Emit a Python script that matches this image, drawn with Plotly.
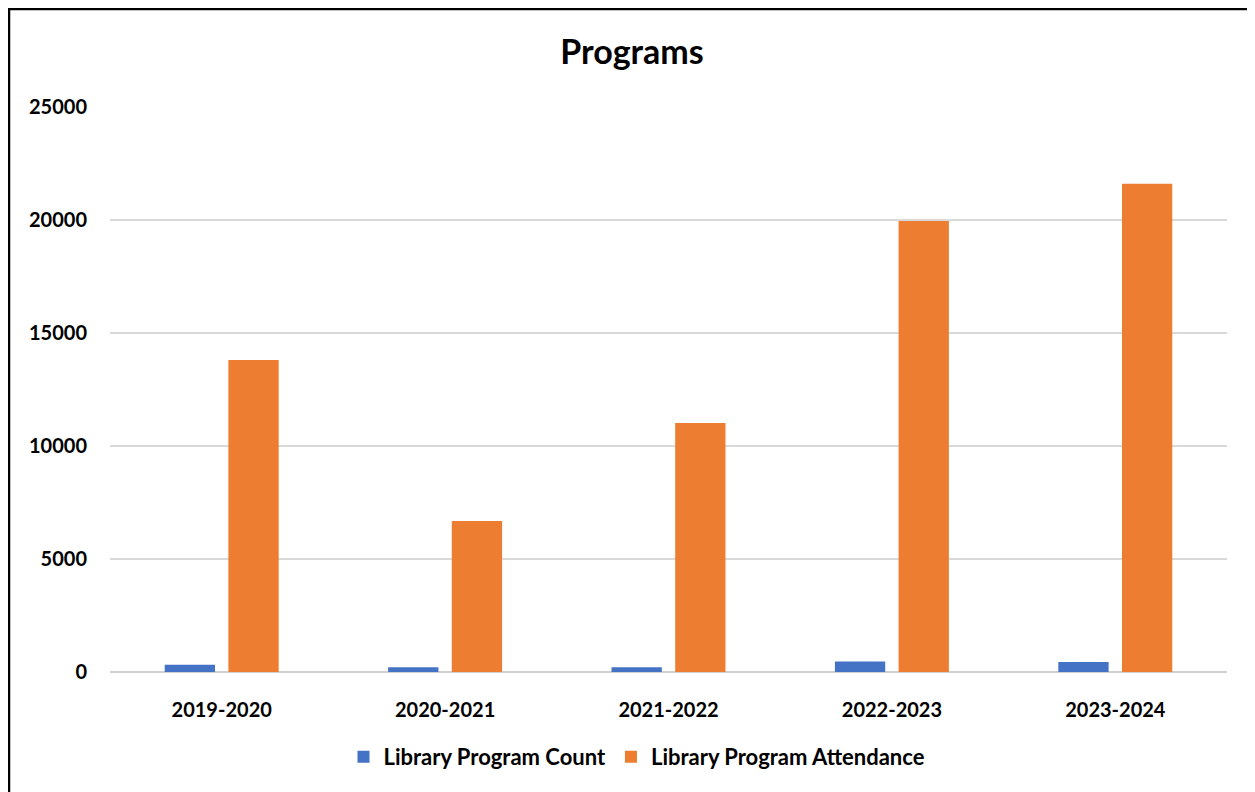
import plotly.graph_objects as go

categories = ["2019-2020", "2020-2021", "2021-2022", "2022-2023", "2023-2024"]
program_count = [320, 210, 210, 470, 445]
program_attendance = [13800, 6680, 11020, 19960, 21600]
y_ticks = [0, 5000, 10000, 15000, 20000, 25000]

FONT = "Lato"
OFF = 8  # page body offset

fig = go.Figure()
fig.add_trace(go.Bar(x=categories, y=program_count, name="<b>Library Program Count</b>",
                     marker=dict(color="#4472C4", line=dict(width=0))))
fig.add_trace(go.Bar(x=categories, y=program_attendance, name="<b>Library Program Attendance</b>",
                     marker=dict(color="#ED7D31", line=dict(width=0))))

W, H = 1255, 792
L, T = 110 - OFF, 107 - OFF
R = W - (1227 - OFF)
B = H - (672 - OFF)
pw, ph = W - L - R, H - T - B

fig.update_layout(
    width=W, height=H,
    margin=dict(l=L, r=R, t=T, b=B),
    paper_bgcolor="white", plot_bgcolor="white",
    barmode="group", bargap=0.43, bargroupgap=0.21,
    title=dict(text="<b>Programs</b>", x=(632 - OFF) / W, xanchor="center",
               y=1 - (52 - OFF) / H, yanchor="middle",
               font=dict(family=FONT, size=34, color="black")),
    font=dict(family=FONT, color="black"),
    legend=dict(orientation="h", x=((637 - OFF) - L) / pw, xanchor="center",
                y=-((757 - OFF) - (H - B)) / ph, yanchor="middle",
                font=dict(family=FONT, size=22, color="black"), itemwidth=30,
                traceorder="normal"),
    xaxis=dict(showgrid=False, showline=False, ticks="outside", ticklen=20, tickcolor="rgba(0,0,0,0)",
               tickfont=dict(family=FONT, size=20, color="black"),
               tickprefix="<b>", ticksuffix="</b>"),
    yaxis=dict(range=[0, 25000], tickvals=y_ticks, ticktext=[f"<b>{v}</b>" for v in y_ticks],
               showgrid=True, gridcolor="#d9d9d9", gridwidth=1.5,
               zeroline=True, zerolinecolor="#d0d0d0", zerolinewidth=2,
               showline=False, ticks="outside", ticklen=18, tickcolor="rgba(0,0,0,0)",
               tickfont=dict(family=FONT, size=20, color="black")),
    shapes=[dict(type="rect", xref="paper", yref="paper",
                 x0=(1 - L) / pw, x1=1.2, y0=-0.5, y1=(H - B - 1) / ph,
                 line=dict(color="black", width=2.5), fillcolor="rgba(0,0,0,0)", layer="above")],
)

fig.write_html("out.html")
